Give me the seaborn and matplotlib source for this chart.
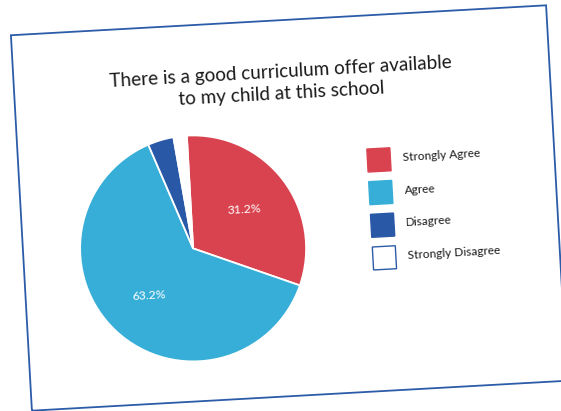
import matplotlib
matplotlib.use("Agg")
import matplotlib.pyplot as plt
from matplotlib.patches import Rectangle
from matplotlib.transforms import Affine2D
import seaborn as sns

# Survey responses
categories = ["Strongly Agree", "Agree", "Disagree", "Strongly Disagree"]
shares = [31.2, 63.2, 3.7, 1.9]
title_lines = ["There is a good curriculum offer available",
               "to my child at this school"]

sns.set_style("white")
plt.rcParams["font.family"] = ["Lato", "DejaVu Sans"]

colors = sns.color_palette(["#d9434f", "#37aed7", "#2858a6", "#ffffff"])
edge_blue = "#2c5ba8"

fig = plt.figure(figsize=(5.61, 4.11), dpi=100)
ax = fig.add_axes([0, 0, 1, 1])

# The whole card is laid out in its own frame and tilted slightly
tilt_deg = 3.2
frame = Affine2D().rotate_deg(tilt_deg).translate(289, 203) + ax.transData

W, H = 536, 376

wedges, texts, autotexts = ax.pie(
    shares,
    colors=colors,
    startangle=90,
    counterclock=False,
    center=(-98, -35),
    radius=113,
    autopct=lambda p: f"{p:.1f}%" if p > 10 else "",
    pctdistance=0.57,
    wedgeprops=dict(edgecolor="white", linewidth=1.3),
    textprops=dict(color="white", fontsize=8.8),
)
for w in wedges:
    w.set_transform(frame)
for t in list(texts) + list(autotexts):
    t.set_transform(frame)
    t.set_rotation(tilt_deg)
    t.set_rotation_mode("anchor")

# card border
ax.add_patch(Rectangle((-W / 2, -H / 2), W, H, fill=False,
                       edgecolor=edge_blue, linewidth=1.3, transform=frame))

# title
for line, v in zip(title_lines, [136, 114]):
    ax.text(-1, v, line, transform=frame, rotation=tilt_deg,
            rotation_mode="anchor", ha="center", va="center",
            fontsize=13.6, color="#1a1a1a")

# legend
sq = 23
for i, (name, c) in enumerate(zip(categories, colors)):
    v = 43 - 32.7 * i
    ec = edge_blue if name == "Strongly Disagree" else c
    ax.add_patch(Rectangle((92.5 - sq / 2, v - sq / 2), sq, sq,
                           facecolor=c, edgecolor=ec, linewidth=1.0,
                           transform=frame))
    ax.text(116, v + 1, name, transform=frame, rotation=tilt_deg,
            rotation_mode="anchor", ha="left", va="center",
            fontsize=8.6, color="#1a1a1a")

ax.set_xlim(0, 561)
ax.set_ylim(0, 411)
ax.set_aspect("auto")
ax.axis("off")

fig.savefig("out.png", dpi=100, facecolor="white")
